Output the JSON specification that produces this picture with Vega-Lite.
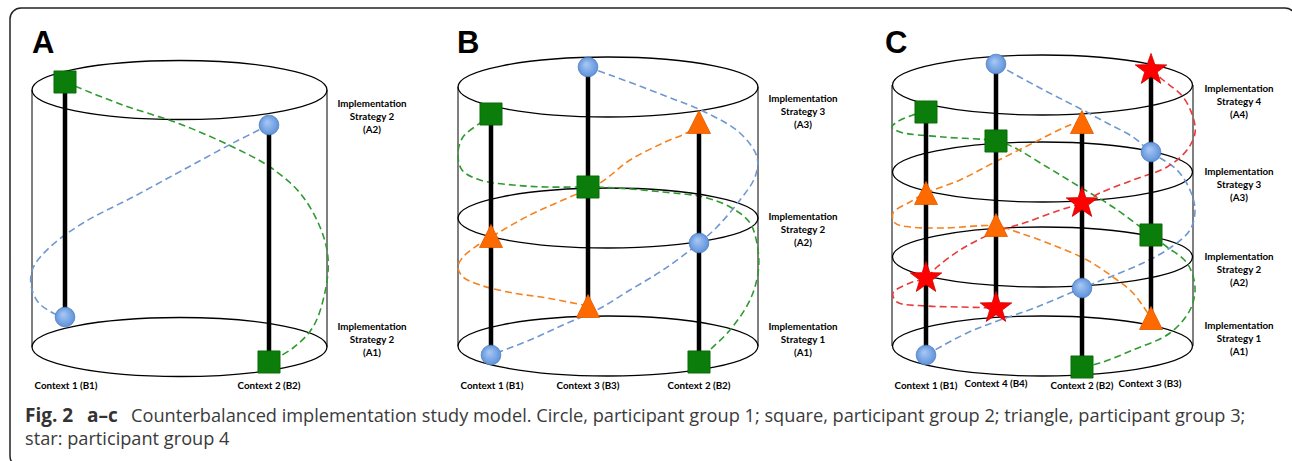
{
"$schema": "https://vega.github.io/schema/vega-lite/v6.json",
"width": 1292, "height": 461,
"autosize": {"type": "fit", "contains": "padding"},
"padding": 0,
"background": "white",
"config": {"view": {"stroke": null}},
"datasets": {
"frame": [{"x": 10, "y": 8, "x2": 1296, "y2": 467}],
"ell": [
{"p": "A", "x": 179.5, "y": 90}, {"p": "A", "x": 179.5, "y": 347},
{"p": "B", "x": 608, "y": 87}, {"p": "B", "x": 608, "y": 218}, {"p": "B", "x": 608, "y": 346},
{"p": "C", "x": 1042.5, "y": 85}, {"p": "C", "x": 1042.5, "y": 172}, {"p": "C", "x": 1042.5, "y": 257}, {"p": "C", "x": 1042.5, "y": 346}
],
"side": [
{"x": 32, "y": 90, "y2": 347}, {"x": 327, "y": 90, "y2": 347},
{"x": 458, "y": 87, "y2": 346}, {"x": 758, "y": 87, "y2": 346},
{"x": 892, "y": 85, "y2": 346}, {"x": 1193, "y": 85, "y2": 346}
],
"pole": [
{"x": 65, "y": 82, "y2": 317}, {"x": 269, "y": 125, "y2": 362},
{"x": 491, "y": 114, "y2": 355}, {"x": 588, "y": 67, "y2": 306}, {"x": 699, "y": 122, "y2": 362},
{"x": 926, "y": 112, "y2": 355}, {"x": 996, "y": 64, "y2": 308}, {"x": 1082, "y": 122, "y2": 367}, {"x": 1151, "y": 70, "y2": 318}
],
"curve": [
{"id": "gA", "g": "green", "i": 0, "x": 65, "y": 82}, {"id": "gA", "g": "green", "i": 1, "x": 120, "y": 104}, {"id": "gA", "g": "green", "i": 2, "x": 180, "y": 124}, {"id": "gA", "g": "green", "i": 3, "x": 233, "y": 147}, {"id": "gA", "g": "green", "i": 4, "x": 270, "y": 167}, {"id": "gA", "g": "green", "i": 5, "x": 300, "y": 193}, {"id": "gA", "g": "green", "i": 6, "x": 320, "y": 227}, {"id": "gA", "g": "green", "i": 7, "x": 328, "y": 258}, {"id": "gA", "g": "green", "i": 8, "x": 325, "y": 292}, {"id": "gA", "g": "green", "i": 9, "x": 313, "y": 327}, {"id": "gA", "g": "green", "i": 10, "x": 293, "y": 348}, {"id": "gA", "g": "green", "i": 11, "x": 269, "y": 362},
{"id": "bA", "g": "blue", "i": 0, "x": 269, "y": 125}, {"id": "bA", "g": "blue", "i": 1, "x": 233, "y": 143}, {"id": "bA", "g": "blue", "i": 2, "x": 183, "y": 170}, {"id": "bA", "g": "blue", "i": 3, "x": 133, "y": 197}, {"id": "bA", "g": "blue", "i": 4, "x": 83, "y": 223}, {"id": "bA", "g": "blue", "i": 5, "x": 50, "y": 247}, {"id": "bA", "g": "blue", "i": 6, "x": 33, "y": 268}, {"id": "bA", "g": "blue", "i": 7, "x": 31, "y": 285}, {"id": "bA", "g": "blue", "i": 8, "x": 38, "y": 302}, {"id": "bA", "g": "blue", "i": 9, "x": 53, "y": 313}, {"id": "bA", "g": "blue", "i": 10, "x": 65, "y": 317},
{"id": "bB", "g": "blue", "i": 0, "x": 588, "y": 67}, {"id": "bB", "g": "blue", "i": 1, "x": 610, "y": 75}, {"id": "bB", "g": "blue", "i": 2, "x": 663, "y": 95}, {"id": "bB", "g": "blue", "i": 3, "x": 707, "y": 113}, {"id": "bB", "g": "blue", "i": 4, "x": 740, "y": 133}, {"id": "bB", "g": "blue", "i": 5, "x": 757, "y": 157}, {"id": "bB", "g": "blue", "i": 6, "x": 755, "y": 177}, {"id": "bB", "g": "blue", "i": 7, "x": 740, "y": 200}, {"id": "bB", "g": "blue", "i": 8, "x": 717, "y": 227}, {"id": "bB", "g": "blue", "i": 9, "x": 699, "y": 243}, {"id": "bB", "g": "blue", "i": 10, "x": 663, "y": 270}, {"id": "bB", "g": "blue", "i": 11, "x": 630, "y": 290}, {"id": "bB", "g": "blue", "i": 12, "x": 597, "y": 310}, {"id": "bB", "g": "blue", "i": 13, "x": 563, "y": 325}, {"id": "bB", "g": "blue", "i": 14, "x": 530, "y": 340}, {"id": "bB", "g": "blue", "i": 15, "x": 491, "y": 355},
{"id": "oB", "g": "orange", "i": 0, "x": 699, "y": 122}, {"id": "oB", "g": "orange", "i": 1, "x": 690, "y": 131}, {"id": "oB", "g": "orange", "i": 2, "x": 663, "y": 143}, {"id": "oB", "g": "orange", "i": 3, "x": 630, "y": 160}, {"id": "oB", "g": "orange", "i": 4, "x": 600, "y": 183}, {"id": "oB", "g": "orange", "i": 5, "x": 563, "y": 200}, {"id": "oB", "g": "orange", "i": 6, "x": 530, "y": 215}, {"id": "oB", "g": "orange", "i": 7, "x": 491, "y": 237}, {"id": "oB", "g": "orange", "i": 8, "x": 478, "y": 245}, {"id": "oB", "g": "orange", "i": 9, "x": 463, "y": 257}, {"id": "oB", "g": "orange", "i": 10, "x": 458, "y": 267}, {"id": "oB", "g": "orange", "i": 11, "x": 463, "y": 277}, {"id": "oB", "g": "orange", "i": 12, "x": 480, "y": 285}, {"id": "oB", "g": "orange", "i": 13, "x": 513, "y": 293}, {"id": "oB", "g": "orange", "i": 14, "x": 547, "y": 298}, {"id": "oB", "g": "orange", "i": 15, "x": 588, "y": 306},
{"id": "gB", "g": "green", "i": 0, "x": 491, "y": 114}, {"id": "gB", "g": "green", "i": 1, "x": 480, "y": 123}, {"id": "gB", "g": "green", "i": 2, "x": 463, "y": 137}, {"id": "gB", "g": "green", "i": 3, "x": 458, "y": 153}, {"id": "gB", "g": "green", "i": 4, "x": 462, "y": 170}, {"id": "gB", "g": "green", "i": 5, "x": 480, "y": 180}, {"id": "gB", "g": "green", "i": 6, "x": 513, "y": 185}, {"id": "gB", "g": "green", "i": 7, "x": 547, "y": 187}, {"id": "gB", "g": "green", "i": 8, "x": 588, "y": 187}, {"id": "gB", "g": "green", "i": 9, "x": 617, "y": 188}, {"id": "gB", "g": "green", "i": 10, "x": 663, "y": 192}, {"id": "gB", "g": "green", "i": 11, "x": 703, "y": 197}, {"id": "gB", "g": "green", "i": 12, "x": 730, "y": 207}, {"id": "gB", "g": "green", "i": 13, "x": 750, "y": 223}, {"id": "gB", "g": "green", "i": 14, "x": 758, "y": 250}, {"id": "gB", "g": "green", "i": 15, "x": 758, "y": 273}, {"id": "gB", "g": "green", "i": 16, "x": 750, "y": 300}, {"id": "gB", "g": "green", "i": 17, "x": 730, "y": 330}, {"id": "gB", "g": "green", "i": 18, "x": 710, "y": 350}, {"id": "gB", "g": "green", "i": 19, "x": 699, "y": 362},
{"id": "bC", "g": "blue", "i": 0, "x": 926, "y": 355}, {"id": "bC", "g": "blue", "i": 1, "x": 967, "y": 333}, {"id": "bC", "g": "blue", "i": 2, "x": 1000, "y": 320}, {"id": "bC", "g": "blue", "i": 3, "x": 1037, "y": 307}, {"id": "bC", "g": "blue", "i": 4, "x": 1082, "y": 288}, {"id": "bC", "g": "blue", "i": 5, "x": 1110, "y": 277}, {"id": "bC", "g": "blue", "i": 6, "x": 1143, "y": 263}, {"id": "bC", "g": "blue", "i": 7, "x": 1170, "y": 248}, {"id": "bC", "g": "blue", "i": 8, "x": 1190, "y": 230}, {"id": "bC", "g": "blue", "i": 9, "x": 1195, "y": 210}, {"id": "bC", "g": "blue", "i": 10, "x": 1190, "y": 190}, {"id": "bC", "g": "blue", "i": 11, "x": 1177, "y": 170}, {"id": "bC", "g": "blue", "i": 12, "x": 1151, "y": 152}, {"id": "bC", "g": "blue", "i": 13, "x": 1133, "y": 137}, {"id": "bC", "g": "blue", "i": 14, "x": 1107, "y": 123}, {"id": "bC", "g": "blue", "i": 15, "x": 1077, "y": 107}, {"id": "bC", "g": "blue", "i": 16, "x": 1040, "y": 88}, {"id": "bC", "g": "blue", "i": 17, "x": 996, "y": 64},
{"id": "gC", "g": "green", "i": 0, "x": 926, "y": 112}, {"id": "gC", "g": "green", "i": 1, "x": 913, "y": 115}, {"id": "gC", "g": "green", "i": 2, "x": 897, "y": 122}, {"id": "gC", "g": "green", "i": 3, "x": 892, "y": 127}, {"id": "gC", "g": "green", "i": 4, "x": 900, "y": 132}, {"id": "gC", "g": "green", "i": 5, "x": 943, "y": 137}, {"id": "gC", "g": "green", "i": 6, "x": 996, "y": 141}, {"id": "gC", "g": "green", "i": 7, "x": 1013, "y": 147}, {"id": "gC", "g": "green", "i": 8, "x": 1047, "y": 167}, {"id": "gC", "g": "green", "i": 9, "x": 1080, "y": 187}, {"id": "gC", "g": "green", "i": 10, "x": 1113, "y": 207}, {"id": "gC", "g": "green", "i": 11, "x": 1151, "y": 235}, {"id": "gC", "g": "green", "i": 12, "x": 1167, "y": 247}, {"id": "gC", "g": "green", "i": 13, "x": 1187, "y": 263}, {"id": "gC", "g": "green", "i": 14, "x": 1195, "y": 287}, {"id": "gC", "g": "green", "i": 15, "x": 1190, "y": 310}, {"id": "gC", "g": "green", "i": 16, "x": 1170, "y": 333}, {"id": "gC", "g": "green", "i": 17, "x": 1133, "y": 350}, {"id": "gC", "g": "green", "i": 18, "x": 1100, "y": 363}, {"id": "gC", "g": "green", "i": 19, "x": 1082, "y": 367},
{"id": "oC", "g": "orange", "i": 0, "x": 1082, "y": 122}, {"id": "oC", "g": "orange", "i": 1, "x": 1070, "y": 125}, {"id": "oC", "g": "orange", "i": 2, "x": 1033, "y": 143}, {"id": "oC", "g": "orange", "i": 3, "x": 993, "y": 163}, {"id": "oC", "g": "orange", "i": 4, "x": 960, "y": 180}, {"id": "oC", "g": "orange", "i": 5, "x": 926, "y": 193}, {"id": "oC", "g": "orange", "i": 6, "x": 910, "y": 202}, {"id": "oC", "g": "orange", "i": 7, "x": 893, "y": 213}, {"id": "oC", "g": "orange", "i": 8, "x": 895, "y": 223}, {"id": "oC", "g": "orange", "i": 9, "x": 910, "y": 227}, {"id": "oC", "g": "orange", "i": 10, "x": 943, "y": 228}, {"id": "oC", "g": "orange", "i": 11, "x": 996, "y": 226}, {"id": "oC", "g": "orange", "i": 12, "x": 1020, "y": 233}, {"id": "oC", "g": "orange", "i": 13, "x": 1053, "y": 245}, {"id": "oC", "g": "orange", "i": 14, "x": 1087, "y": 260}, {"id": "oC", "g": "orange", "i": 15, "x": 1113, "y": 277}, {"id": "oC", "g": "orange", "i": 16, "x": 1133, "y": 293}, {"id": "oC", "g": "orange", "i": 17, "x": 1151, "y": 318},
{"id": "rC", "g": "red", "i": 0, "x": 1151, "y": 70}, {"id": "rC", "g": "red", "i": 1, "x": 1163, "y": 80}, {"id": "rC", "g": "red", "i": 2, "x": 1183, "y": 97}, {"id": "rC", "g": "red", "i": 3, "x": 1193, "y": 117}, {"id": "rC", "g": "red", "i": 4, "x": 1195, "y": 133}, {"id": "rC", "g": "red", "i": 5, "x": 1187, "y": 150}, {"id": "rC", "g": "red", "i": 6, "x": 1167, "y": 167}, {"id": "rC", "g": "red", "i": 7, "x": 1133, "y": 180}, {"id": "rC", "g": "red", "i": 8, "x": 1100, "y": 193}, {"id": "rC", "g": "red", "i": 9, "x": 1082, "y": 203}, {"id": "rC", "g": "red", "i": 10, "x": 1060, "y": 210}, {"id": "rC", "g": "red", "i": 11, "x": 1027, "y": 222}, {"id": "rC", "g": "red", "i": 12, "x": 993, "y": 233}, {"id": "rC", "g": "red", "i": 13, "x": 960, "y": 250}, {"id": "rC", "g": "red", "i": 14, "x": 937, "y": 267}, {"id": "rC", "g": "red", "i": 15, "x": 926, "y": 278}, {"id": "rC", "g": "red", "i": 16, "x": 910, "y": 283}, {"id": "rC", "g": "red", "i": 17, "x": 893, "y": 293}, {"id": "rC", "g": "red", "i": 18, "x": 897, "y": 302}, {"id": "rC", "g": "red", "i": 19, "x": 927, "y": 306}, {"id": "rC", "g": "red", "i": 20, "x": 960, "y": 307}, {"id": "rC", "g": "red", "i": 21, "x": 996, "y": 308}
],
"mk": [
{"s": "square", "x": 65, "y": 82}, {"s": "circle", "x": 269, "y": 125}, {"s": "circle", "x": 65, "y": 317}, {"s": "square", "x": 269, "y": 362},
{"s": "circle", "x": 588, "y": 67}, {"s": "square", "x": 491, "y": 114}, {"s": "triangle", "x": 699, "y": 122}, {"s": "square", "x": 588, "y": 187}, {"s": "triangle", "x": 491, "y": 236}, {"s": "circle", "x": 699, "y": 243}, {"s": "triangle", "x": 588, "y": 306}, {"s": "circle", "x": 491, "y": 355}, {"s": "square", "x": 699, "y": 362},
{"s": "square", "x": 926, "y": 112}, {"s": "triangle", "x": 926, "y": 193}, {"s": "star", "x": 926, "y": 278}, {"s": "circle", "x": 926, "y": 355},
{"s": "circle", "x": 996, "y": 64}, {"s": "square", "x": 996, "y": 141}, {"s": "triangle", "x": 996, "y": 225}, {"s": "star", "x": 996, "y": 308},
{"s": "triangle", "x": 1082, "y": 122}, {"s": "star", "x": 1082, "y": 203}, {"s": "circle", "x": 1082, "y": 288}, {"s": "square", "x": 1082, "y": 367},
{"s": "star", "x": 1151, "y": 70}, {"s": "circle", "x": 1151, "y": 152}, {"s": "square", "x": 1151, "y": 235}, {"s": "triangle", "x": 1151, "y": 318}
],
"lab": [
{"x": 372, "y": 104, "t": "Implementation\nStrategy 2\n(A2)"}, {"x": 372, "y": 327, "t": "Implementation\nStrategy 2\n(A1)"},
{"x": 803, "y": 99, "t": "Implementation\nStrategy 3\n(A3)"}, {"x": 803, "y": 217, "t": "Implementation\nStrategy 2\n(A2)"}, {"x": 803, "y": 327, "t": "Implementation\nStrategy 1\n(A1)"},
{"x": 1239, "y": 89, "t": "Implementation\nStrategy 4\n(A4)"}, {"x": 1239, "y": 172, "t": "Implementation\nStrategy 3\n(A3)"}, {"x": 1239, "y": 257, "t": "Implementation\nStrategy 2\n(A2)"}, {"x": 1239, "y": 326, "t": "Implementation\nStrategy 1\n(A1)"},
{"x": 66, "y": 386, "t": "Context 1 (B1)"}, {"x": 269, "y": 386, "t": "Context 2 (B2)"},
{"x": 492, "y": 386, "t": "Context 1 (B1)"}, {"x": 588, "y": 386, "t": "Context 3 (B3)"}, {"x": 699, "y": 386, "t": "Context 2 (B2)"},
{"x": 926, "y": 386, "t": "Context 1 (B1)"}, {"x": 996, "y": 384, "t": "Context 4 (B4)"}, {"x": 1082, "y": 386, "t": "Context 2 (B2)"}, {"x": 1150, "y": 384, "t": "Context 3 (B3)"}
],
"letters": [{"x": 32, "y": 53, "t": "A"}, {"x": 457, "y": 53, "t": "B"}, {"x": 885, "y": 53, "t": "C"}],
"capb": [{"x": 25, "y": 422, "t": "Fig. 2"}, {"x": 87, "y": 422, "t": "a–c"}],
"capr": [
{"x": 131, "y": 422, "t": "Counterbalanced implementation study model. Circle, participant group 1; square, participant group 2; triangle, participant group 3;"},
{"x": 25, "y": 445, "t": "star: participant group 4"}
]
},
"encoding": {
"x": {"field": "x", "type": "quantitative", "scale": {"domain": [0, 1292], "nice": false, "zero": false}, "axis": null},
"y": {"field": "y", "type": "quantitative", "scale": {"domain": [0, 461], "nice": false, "zero": false, "reverse": true}, "axis": null}
},
"layer": [
{"data": {"name": "frame"}, "mark": {"type": "rect", "filled": false, "stroke": "#222222", "strokeWidth": 1.5, "cornerRadius": 11, "clip": true},
 "encoding": {"x2": {"field": "x2"}, "y2": {"field": "y2"}}},
{"data": {"name": "ell"}, "transform": [{"filter": "datum.p == 'A'"}],
 "mark": {"type": "point", "shape": "M-1,0C-1,-0.1105,-0.5523,-0.2,0,-0.2C0.5523,-0.2,1,-0.1105,1,0C1,0.1105,0.5523,0.2,0,0.2C-0.5523,0.2,-1,0.1105,-1,0Z", "size": 87025, "filled": false, "stroke": "black", "strokeWidth": 1.3, "opacity": 1}},
{"data": {"name": "ell"}, "transform": [{"filter": "datum.p != 'A'"}],
 "mark": {"type": "point", "shape": "M-1,0C-1,-0.1105,-0.5523,-0.2,0,-0.2C0.5523,-0.2,1,-0.1105,1,0C1,0.1105,0.5523,0.2,0,0.2C-0.5523,0.2,-1,0.1105,-1,0Z", "size": 90000, "filled": false, "stroke": "black", "strokeWidth": 1.3, "opacity": 1}},
{"data": {"name": "side"}, "mark": {"type": "rule", "stroke": "black", "strokeWidth": 1}, "encoding": {"y2": {"field": "y2"}}},
{"data": {"name": "curve"}, "mark": {"type": "line", "interpolate": "catmull-rom", "strokeDash": [7, 4], "strokeWidth": 1.6},
 "encoding": {
  "color": {"field": "g", "type": "nominal", "scale": {"domain": ["blue", "green", "orange", "red"], "range": ["#6f98d0", "#2f9a2f", "#f5821f", "#e83a3a"]}, "legend": null},
  "detail": {"field": "id"},
  "order": {"field": "i", "type": "quantitative"}
 }},
{"data": {"name": "pole"}, "mark": {"type": "rule", "stroke": "black", "strokeWidth": 4.5}, "encoding": {"y2": {"field": "y2"}}},
{"data": {"name": "mk"}, "transform": [{"filter": "datum.s == 'circle'"}],
 "mark": {"type": "point", "shape": "circle", "size": 390, "filled": true, "opacity": 1,
  "fill": {"gradient": "radial", "x1": 0.4, "y1": 0.35, "r1": 0, "x2": 0.5, "y2": 0.5, "r2": 0.55, "stops": [{"offset": 0, "color": "#a9c9f5"}, {"offset": 1, "color": "#5a8ed8"}]},
  "stroke": "#4f7fc2", "strokeWidth": 0.8}},
{"data": {"name": "mk"}, "transform": [{"filter": "datum.s == 'square'"}],
 "mark": {"type": "point", "shape": "square", "size": 490, "filled": true, "opacity": 1, "fill": "#0b7d0b", "stroke": "#076607", "strokeWidth": 0.8}},
{"data": {"name": "mk"}, "transform": [{"filter": "datum.s == 'triangle'"}],
 "mark": {"type": "point", "shape": "M0,-1L1,1L-1,1Z", "size": 529, "filled": true, "opacity": 1, "fill": "#ff6a00", "stroke": "#e05a00", "strokeWidth": 0.8}},
{"data": {"name": "mk"}, "transform": [{"filter": "datum.s == 'star'"}],
 "mark": {"type": "point", "shape": "M0,-1L0.235,-0.324L0.951,-0.309L0.38,0.124L0.588,0.809L0,0.4L-0.588,0.809L-0.38,0.124L-0.951,-0.309L-0.235,-0.324Z", "size": 1100, "filled": true, "opacity": 1, "fill": "#ff0000", "stroke": "#d00000", "strokeWidth": 0.8}},
{"data": {"name": "lab"}, "mark": {"type": "text", "font": "Lato", "fontWeight": "bold", "fontSize": 9.8, "lineHeight": 13, "lineBreak": "\n", "align": "center", "baseline": "middle", "color": "black"},
 "encoding": {"text": {"field": "t"}}},
{"data": {"name": "letters"}, "mark": {"type": "text", "font": "Liberation Sans", "fontWeight": "bold", "fontSize": 31, "align": "left", "baseline": "alphabetic", "color": "black"},
 "encoding": {"text": {"field": "t"}}},
{"data": {"name": "capb"}, "mark": {"type": "text", "font": "Open Sans", "fontWeight": "bold", "fontSize": 19, "align": "left", "baseline": "alphabetic", "color": "#333333"},
 "encoding": {"text": {"field": "t"}}},
{"data": {"name": "capr"}, "mark": {"type": "text", "font": "Open Sans", "fontSize": 18.2, "align": "left", "baseline": "alphabetic", "color": "#3a3a3a"},
 "encoding": {"text": {"field": "t"}}}
]
}
